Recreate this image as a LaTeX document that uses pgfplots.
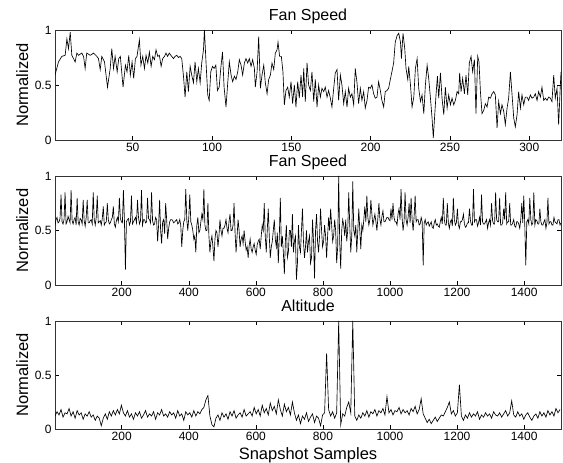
\documentclass[border=0pt]{standalone}
\usepackage{fontspec}
\setmainfont{Liberation Sans}
\usepackage{pgfplots}
\usepackage{pgfplotstable}
\pgfplotsset{compat=1.18}

% fan speed, every 3rd snapshot sample
\pgfplotstableread[header=false,row sep=\\]{
0.55\\0.60\\0.62\\0.57\\0.58\\0.61\\0.83\\0.58\\0.56\\0.60\\0.85\\0.56\\0.58\\0.63\\0.60\\0.57\\0.87\\0.59\\0.56\\0.60\\0.62\\0.55\\0.80\\0.58\\0.55\\0.61\\0.60\\0.56\\0.78\\0.59\\0.54\\0.62\\0.78\\0.57\\
0.57\\0.59\\0.60\\0.56\\0.85\\0.60\\0.55\\0.62\\0.82\\0.57\\0.58\\0.59\\0.55\\0.61\\0.72\\0.55\\0.57\\0.58\\0.75\\0.60\\0.56\\0.57\\0.60\\0.62\\0.72\\0.56\\0.53\\0.59\\0.62\\0.58\\0.80\\0.61\\0.58\\0.57\\
0.87\\0.60\\0.14\\0.58\\0.60\\0.61\\0.55\\0.58\\0.82\\0.56\\0.58\\0.60\\0.62\\0.57\\0.78\\0.62\\0.56\\0.59\\0.87\\0.55\\0.60\\0.60\\0.57\\0.58\\0.80\\0.61\\0.60\\0.57\\0.85\\0.59\\0.55\\0.56\\0.62\\0.60\\
0.40\\0.55\\0.78\\0.50\\0.38\\0.58\\0.60\\0.47\\0.75\\0.60\\0.42\\0.52\\0.58\\0.60\\0.60\\0.59\\0.57\\0.58\\0.59\\0.60\\0.56\\0.57\\0.60\\0.55\\0.35\\0.50\\0.58\\0.60\\0.88\\0.60\\0.50\\0.62\\0.83\\0.58\\
0.55\\0.50\\0.42\\0.45\\0.30\\0.55\\0.62\\0.48\\0.50\\0.58\\0.65\\0.60\\0.88\\0.55\\0.50\\0.50\\0.75\\0.45\\0.30\\0.40\\0.45\\0.35\\0.22\\0.42\\0.50\\0.48\\0.35\\0.45\\0.60\\0.50\\0.45\\0.52\\
0.52\\0.55\\0.60\\0.52\\0.48\\0.58\\0.65\\0.50\\0.50\\0.55\\0.75\\0.48\\0.30\\0.45\\0.60\\0.50\\0.35\\0.42\\0.45\\0.38\\0.50\\0.40\\0.32\\0.35\\0.25\\0.36\\0.42\\0.33\\0.30\\0.35\\0.38\\0.32\\
0.28\\0.37\\0.40\\0.42\\0.33\\0.45\\0.55\\0.50\\0.75\\0.45\\0.30\\0.50\\0.70\\0.45\\0.25\\0.35\\0.40\\0.50\\0.60\\0.42\\0.35\\0.48\\0.20\\0.45\\0.80\\0.35\\0.45\\0.30\\0.10\\0.40\\0.55\\0.25\\
0.30\\0.50\\0.50\\0.35\\0.65\\0.30\\0.40\\0.45\\0.05\\0.20\\0.55\\0.35\\0.30\\0.50\\0.70\\0.40\\0.25\\0.35\\0.50\\0.30\\0.40\\0.45\\0.20\\0.25\\0.60\\0.40\\0.06\\0.50\\0.65\\0.40\\0.30\\0.45\\
0.70\\0.50\\0.35\\0.40\\0.55\\0.45\\0.25\\0.45\\0.62\\0.50\\0.70\\0.55\\0.40\\0.45\\0.60\\0.50\\0.20\\0.35\\1.00\\0.40\\0.15\\0.50\\0.60\\0.55\\0.45\\0.60\\0.40\\0.50\\0.85\\0.55\\0.30\\0.45\\
0.95\\0.50\\0.45\\0.55\\0.30\\0.50\\0.70\\0.50\\0.33\\0.55\\0.50\\0.60\\0.72\\0.58\\0.82\\0.62\\0.55\\0.60\\0.78\\0.65\\0.55\\0.60\\0.65\\0.58\\0.50\\0.62\\0.75\\0.60\\0.55\\0.63\\0.68\\0.58\\
0.58\\0.60\\0.62\\0.62\\0.60\\0.59\\
0.70\\0.60\\0.75\\0.62\\0.58\\0.58\\0.55\\0.65\\0.70\\0.60\\0.88\\0.62\\0.50\\0.58\\0.85\\0.60\\0.55\\0.62\\0.75\\0.57\\0.80\\0.60\\0.50\\0.63\\0.82\\0.58\\0.60\\0.60\\0.55\\0.56\\0.62\\0.58\\
0.18\\0.57\\0.60\\0.55\\0.57\\0.58\\0.54\\0.56\\0.58\\0.53\\0.52\\0.57\\0.60\\0.55\\0.56\\0.54\\0.53\\0.58\\0.62\\0.56\\0.80\\0.60\\0.55\\0.55\\0.75\\0.57\\0.52\\0.58\\0.60\\0.54\\0.80\\0.60\\
0.55\\0.57\\0.70\\0.55\\0.52\\0.58\\0.58\\0.60\\0.65\\0.56\\0.53\\0.54\\0.57\\0.57\\0.70\\0.59\\0.55\\0.55\\0.88\\0.58\\0.60\\0.60\\0.54\\0.57\\0.62\\0.55\\0.83\\0.58\\0.56\\0.56\\0.58\\0.60\\
0.52\\0.57\\0.60\\0.55\\0.75\\0.59\\0.56\\0.56\\0.85\\0.60\\0.58\\0.58\\0.80\\0.55\\0.55\\0.57\\0.70\\0.60\\0.85\\0.56\\0.58\\0.58\\0.75\\0.55\\0.55\\0.57\\0.60\\0.54\\0.53\\0.58\\0.58\\0.56\\
0.52\\0.60\\0.75\\0.57\\0.82\\0.55\\0.18\\0.58\\0.60\\0.56\\0.80\\0.60\\0.55\\0.57\\0.85\\0.55\\0.60\\0.59\\0.56\\0.56\\0.70\\0.58\\0.55\\0.55\\0.58\\0.60\\0.52\\0.57\\0.80\\0.56\\0.58\\0.58\\
0.55\\0.55\\0.62\\0.58\\0.57\\0.56\\0.60\\0.60\\0.55\\0.57\\
}\fanlong

% altitude, every 6th snapshot sample
\pgfplotstableread[header=false,row sep=\\]{
0.12\\0.16\\0.13\\0.18\\0.11\\0.15\\0.14\\0.19\\0.12\\0.16\\0.10\\0.17\\0.13\\0.15\\0.09\\0.14\\
0.12\\0.16\\0.11\\0.13\\0.08\\0.12\\0.10\\0.03\\
0.10\\0.14\\0.09\\0.16\\0.12\\0.17\\0.13\\0.18\\0.14\\0.22\\
0.15\\0.12\\0.17\\0.11\\0.14\\0.09\\0.15\\0.12\\0.16\\0.10\\0.13\\0.17\\0.11\\0.14\\0.12\\0.16\\
0.09\\0.15\\0.13\\0.18\\0.12\\0.14\\0.11\\0.16\\0.13\\0.15\\0.10\\0.17\\0.12\\0.14\\0.08\\0.16\\
0.13\\0.15\\0.11\\0.17\\0.12\\0.16\\0.14\\0.18\\
0.20\\0.27\\0.31\\0.12\\0.04\\0.02\\0.10\\
0.13\\0.08\\0.15\\0.11\\0.14\\0.09\\0.16\\0.12\\0.17\\0.10\\0.13\\0.15\\0.11\\0.18\\0.12\\0.14\\
0.16\\0.12\\0.20\\
0.14\\0.18\\0.12\\0.22\\0.15\\0.19\\0.13\\0.24\\0.17\\0.21\\0.14\\0.27\\0.18\\0.12\\0.23\\0.16\\
0.20\\0.13\\0.25\\0.15\\
0.08\\0.13\\0.05\\0.12\\0.09\\0.15\\0.07\\0.11\\0.14\\0.06\\0.12\\0.10\\0.03\\0.13\\
0.15\\0.70\\0.18\\0.12\\0.16\\0.10\\0.15\\1.00\\0.04\\0.14\\0.12\\0.20\\0.25\\0.15\\1.00\\0.12\\0.08\\
0.13\\0.10\\0.15\\0.12\\0.17\\0.11\\0.16\\0.14\\0.18\\0.12\\0.17\\0.15\\0.19\\0.13\\0.30\\
0.15\\0.18\\0.13\\0.17\\0.16\\0.20\\0.14\\0.18\\0.15\\0.17\\0.13\\0.19\\0.16\\0.21\\0.14\\0.18\\0.28\\
0.14\\0.10\\0.06\\0.09\\0.05\\0.08\\0.11\\0.07\\0.10\\0.13\\
0.12\\0.16\\0.20\\0.25\\0.14\\0.17\\0.12\\
0.15\\0.41\\0.12\\
0.08\\0.13\\0.10\\0.15\\0.11\\0.14\\0.12\\0.16\\0.09\\0.13\\0.11\\0.15\\0.12\\0.14\\0.10\\0.16\\
0.13\\0.12\\0.15\\0.11\\0.14\\0.17\\0.12\\0.15\\0.26\\0.13\\0.11\\0.16\\0.12\\0.14\\0.09\\0.13\\
0.15\\0.11\\0.08\\0.12\\0.14\\0.10\\0.16\\0.12\\0.15\\0.11\\0.17\\0.13\\0.16\\0.12\\0.19\\0.15\\0.18\\
}\altitude

\pgfplotsset{
  panel/.style={
    scale only axis, width=506pt,
    ymin=0, ymax=1, ytick={0,0.5,1},
    tick align=inside, major tick length=4pt,
    every tick/.style={black, line width=0.5pt},
    axis line style={black!80, line width=0.6pt},
    tick label style={font=\fontsize{12}{13}\selectfont},
    /pgf/number format/assume math mode=true,
    /pgf/number format/1000 sep={},
    scaled ticks=false,
    title style={font=\fontsize{16}{18}\selectfont, at={(axis description cs:0.5,1)}, anchor=base},
    ylabel=Normalized,
    every axis y label/.style={font=\fontsize{16.5}{18}\selectfont, at={(axis description cs:-0.065,0.5)}, rotate=90, anchor=center},
    every axis x label/.style={font=\fontsize{16.5}{18}\selectfont, at={(axis description cs:0.5,0)}, anchor=base, yshift=-31pt},
  },
  trace/.style={black, line width=0.65pt, no markers},
}

\begin{document}
\begin{tikzpicture}
\useasboundingbox (0,0) rectangle (563pt,463pt);

\begin{axis}[panel, at={(55pt,323pt)}, anchor=south west, height=110pt,
  title={Fan Speed}, title style={yshift=3pt},
  xmin=1, xmax=320, xtick={50,100,...,300}]
\addplot[trace] coordinates {
(1,0.59)(3.2,0.71)(5.3,0.76)(7.4,0.77)(8.5,0.92)(9.5,0.83)(10.6,0.98)(11.6,0.77)(12.7,0.74)(13.7,0.71)
(14.8,0.79)(15.8,0.77)(17.9,0.79)(19,0.76)(20,0.65)(21,0.79)(23.2,0.77)(25.3,0.79)(27.4,0.76)(28.4,0.74)
(29.5,0.64)(30.5,0.76)(32.2,0.71)(34.1,0.48)(35.8,0.65)(36.8,0.83)(37.9,0.65)(38.9,0.76)(40.2,0.62)(41.2,0.74)
(42.2,0.76)(43.9,0.48)(45.4,0.68)(46.4,0.62)(47.5,0.77)(48.5,0.59)(49.6,0.71)(50.6,0.56)(51.7,0.74)(52.7,0.76)
(54.2,0.91)(55.2,0.68)(56.3,0.76)(57.4,0.65)(58.4,0.77)(59.5,0.70)(60.5,0.80)(61.6,0.67)(62.6,0.76)(63.7,0.73)
(64.7,0.82)(65.8,0.76)(66.8,0.77)(67.9,0.67)(68.9,0.74)(70,0.76)(71,0.79)(72,0.76)(73,0.79)(74.6,0.76)
(75.7,0.74)(76.7,0.76)(77.8,0.77)(78.8,0.75)(79.9,0.76)(80.9,0.74)(82,0.58)(83,0.39)(84.1,0.62)(85.1,0.44)
(86.2,0.67)(87.2,0.59)(88.3,0.52)(89.3,0.71)(90.4,0.53)(91.4,0.65)(92.5,0.52)(93.5,0.70)(94.6,0.82)(95.2,1.00)
(96.3,0.68)(97.3,0.41)(98.2,0.36)(99.2,0.62)(100.3,0.67)(101.3,0.65)(102.4,0.68)(103.4,0.45)(104.5,0.48)(105.5,0.65)
(106.6,0.80)(107.6,0.48)(108.8,0.30)(109.9,0.52)(110.9,0.71)(112,0.59)(113,0.53)(114.1,0.58)(115.1,0.55)(116.2,0.62)
(117.2,0.73)(118.3,0.68)(119.3,0.59)(120.4,0.70)(121.4,0.74)(122.5,0.70)(123.5,0.74)(124.6,0.67)(125.6,0.73)(126.7,0.65)
(127.3,0.48)(128.4,0.62)(129.4,0.94)(130.5,0.47)(131.5,0.59)(132.6,0.68)(133.6,0.52)(134.7,0.42)(135.7,0.55)(136.8,0.59)
(137.8,0.70)(138.9,0.64)(139.9,0.79)(141,0.82)(141.6,0.89)(142.6,0.76)(143.7,0.76)(144.7,0.62)(145.6,0.32)(146.6,0.45)
(147.7,0.48)(148.7,0.39)(149.8,0.53)(150.8,0.33)(151.9,0.50)(152.9,0.30)(154,0.53)(155,0.38)(156.1,0.59)(157.1,0.39)
(157.8,0.65)(158.8,0.35)(159.9,0.70)(160.9,0.50)(162,0.45)(163,0.62)(164.1,0.35)(165.1,0.55)(166.2,0.30)(167.2,0.50)
(168.3,0.39)(169.3,0.47)(170.4,0.44)(171.4,0.48)(172.5,0.39)(173.5,0.45)(174.6,0.38)(175.6,0.30)(176.7,0.47)(177.7,0.61)
(178.8,0.64)(179.8,0.36)(180.9,0.59)(181.9,0.50)(183,0.33)(184,0.44)(185.1,0.30)(186.1,0.47)(187.2,0.39)(188.2,0.42)
(189.3,0.32)(190.3,0.65)(191.4,0.52)(192.4,0.33)(193.5,0.47)(194.5,0.36)(195.6,0.44)(196.6,0.29)(197.7,0.36)(198.7,0.48)
(199.8,0.47)(200.8,0.50)(201.9,0.42)(202.9,0.38)(204,0.39)(205,0.53)(206.1,0.45)(207.1,0.36)(208.2,0.30)(209.2,0.44)
(210.3,0.45)(211.3,0.47)(212.4,0.55)(213.4,0.62)(214.5,0.70)(215.5,0.89)(216.7,0.95)(217.7,0.97)(218.8,0.89)(219.4,0.74)
(220.4,0.97)(221.5,0.83)(222.3,0.65)(223.4,0.55)(224,0.67)(225.1,0.50)(226.1,0.30)(227.2,0.39)(228.2,0.65)(229.3,0.74)
(230.3,0.47)(231.4,0.35)(232.4,0.41)(233.5,0.24)(234.5,0.50)(235.6,0.68)(236.6,0.56)(237.7,0.38)(238.7,0.20)(239.5,0.02)
(240.4,0.23)(241.2,0.41)(242.1,0.58)(242.9,0.38)(244,0.61)(245,0.38)(246.1,0.23)(247.1,0.48)(248.2,0.29)(249.2,0.41)
(250.3,0.32)(251.3,0.38)(252.4,0.32)(253.4,0.36)(254.5,0.44)(255.5,0.42)(256.1,0.61)(257,0.44)(258,0.56)(259.1,0.42)
(260.1,0.59)(261.2,0.41)(262.2,0.70)(263.3,0.76)(264.3,0.62)(265.4,0.73)(266.4,0.24)(267.5,0.76)(268.3,0.71)(269.2,0.44)
(270.2,0.24)(271.3,0.27)(272.3,0.33)(273.4,0.30)(274.4,0.39)(275.5,0.38)(276.5,0.42)(277.6,0.44)(278.6,0.41)(279.7,0.11)
(280.7,0.35)(281.8,0.24)(282.8,0.32)(283.9,0.26)(284.9,0.14)(286,0.29)(287,0.38)(288.1,0.62)(289.1,0.42)(290.2,0.20)
(291.2,0.12)(292.3,0.23)(293.3,0.44)(294.4,0.29)(295.4,0.41)(296.5,0.32)(297.5,0.39)(298.6,0.39)(299.6,0.36)(300.7,0.41)
(301.7,0.38)(302.8,0.39)(303.8,0.42)(304.9,0.36)(305.9,0.44)(307,0.39)(308,0.48)(309.1,0.36)(310.1,0.38)(311.2,0.36)
(312.2,0.39)(313.3,0.38)(314.3,0.35)(315.4,0.59)(316.4,0.38)(317.5,0.47)(318.5,0.14)(319.6,0.50)(320,0.62)
};
\end{axis}

\begin{axis}[panel, at={(55pt,178pt)}, anchor=south west, height=109pt,
  title={Fan Speed}, title style={yshift=3.5pt},
  xmin=1, xmax=1510, xtick={200,400,...,1400}]
\addplot[trace] table[x expr=\coordindex*3+1, y index=0] {\fanlong};
\end{axis}

\begin{axis}[panel, at={(55pt,34pt)}, anchor=south west, height=108pt,
  title={Altitude}, title style={yshift=3.5pt}, xlabel={Snapshot Samples},
  xmin=1, xmax=1510, xtick={200,400,...,1400}]
\addplot[trace] table[x expr=\coordindex*6+1, y index=0] {\altitude};
\end{axis}
\end{tikzpicture}
\end{document}
